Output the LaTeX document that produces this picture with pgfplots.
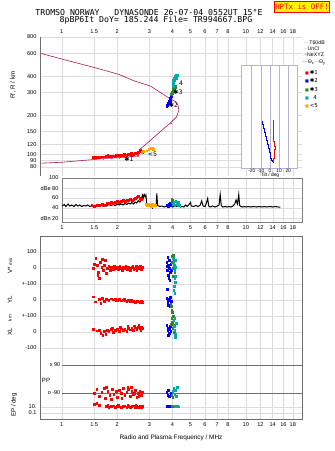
\documentclass[border=0pt]{standalone}
\usepackage{pgfplots}
\pgfplotsset{compat=1.18}
\usepackage{fontspec}
\setmainfont{Liberation Sans}
\newfontfamily\monof{DejaVu Sans Mono}
\newfontfamily\dejavu{DejaVu Sans}
\definecolor{crim}{RGB}{176,24,76}
\definecolor{pinkm}{RGB}{230,80,150}
\definecolor{gridc}{RGB}{220,220,224}
\definecolor{framec}{RGB}{110,110,110}
\definecolor{grn}{RGB}{34,139,34}
\definecolor{cyn}{RGB}{0,170,170}
\definecolor{org}{RGB}{255,165,0}
\definecolor{lav}{RGB}{150,150,230}
\definecolor{insetc}{RGB}{180,180,210}
\begin{document}
\begin{tikzpicture}[font=\fontsize{5.5}{6}\selectfont]
\useasboundingbox (0pt,0pt) rectangle (335pt,-451pt);
% ---------------- top panel ----------------
\begin{axis}[at={(40pt,-37pt)}, anchor=north west, scale only axis, width=262pt, height=139pt,
  xmode=log, ymode=log, xmin=0.762, xmax=20.2, ymin=68.2, ymax=800,
  xtick={1,1.5,2,3,4,5,6,7,8,10,12,14,16,18},
  xticklabels={1,1.5,2,3,4,5,6,7,8,10,12,14,16,18},
  minor xtick={}, minor ytick={}, major tick length=0pt,
  grid=major, major grid style={gridc, line width=0.4pt},
  tick label style={font=\fontsize{5.6}{6}\selectfont},
  xticklabel pos=right,
  ytick={80,90,100,120,150,200,300,400,600,800},
  yticklabels={80,90,100,120,150,200,300,400,600,800},
  axis line style={draw=none}]
\addplot[crim, line width=0.6pt] coordinates {
(0.762,85.5)(1.0,87)(1.52,91.5)(1.69,93)(2.17,95)(2.57,97)(2.65,109)(2.97,125)
(3.44,150)(3.90,175)(4.21,195)(4.33,219)(4.28,240)(4.16,254)(3.82,272)(3.04,335)
(2.46,369)(2.04,413)(1.52,464)(1.02,538)(0.762,600)};
\addplot[only marks, mark=+, pinkm, mark size=1.3pt] coordinates {
(1.69,93)(1.86,93.8)(2.04,94.5)(2.22,95.2)(2.60,97.5)(3.90,175)};
\addplot[only marks, mark=square*, red, mark size=0.85pt] coordinates {
(1.48,95)(1.52,95.5)(1.56,95)(1.60,95.5)(1.64,96)(1.70,96)(1.75,96.5)(1.80,97)
(1.85,96.5)(1.90,97.5)(1.95,97)(2.00,98)(2.05,98.5)(2.10,98)(2.15,99)(2.20,99.5)
(2.25,99)(2.30,100)(2.35,100.5)(2.40,101)(2.45,100.5)(2.50,102)(2.55,103)(2.60,104)
(2.65,105)(2.70,106)(2.73,103)(1.78,98)(1.98,99.5)(2.18,101)(2.38,102.5)(2.58,101)(2.68,108)};
\addplot[only marks, mark=square*, org, mark size=0.85pt] coordinates {
(2.72,104)(2.76,106)(2.90,107)(2.97,109)(3.05,111)(3.10,112)(3.14,110)};
\addplot[only marks, mark=square*, blue, mark size=0.85pt] coordinates {
(3.72,236)(3.75,240)(3.78,250)(3.80,245)(3.82,258)(3.85,255)(3.88,262)(3.90,270)
(3.92,278)(3.95,285)(3.90,250)(3.86,266)};
\addplot[only marks, mark=square*, grn, mark size=0.85pt] coordinates {
(3.92,290)(3.96,300)(4.00,308)(4.05,318)(4.10,325)(4.15,335)(4.00,295)(4.08,310)(4.12,330)};
\addplot[only marks, mark=square*, cyn, mark size=0.85pt] coordinates {
(4.00,345)(4.02,360)(4.05,375)(4.10,390)(4.15,400)(4.20,410)(4.25,405)(4.10,370)
(4.05,335)(4.18,385)(4.02,350)};
\end{axis}
\draw[framec, line width=0.5pt] (40pt,-37pt) -- (40pt,-176pt);
% ---------------- tilt inset ----------------
\begin{axis}[at={(241.7pt,-65pt)}, anchor=north west, scale only axis, width=55.6pt, height=103.3pt,
  xmin=-31, xmax=30, ymin=0, ymax=103.3,
  axis background/.style={fill=white},
  axis line style={insetc, line width=0.7pt},
  xtick={-20,-10,0,10,20}, xticklabels={-20,-10,0,10,20}, ytick=\empty,
  major tick length=0pt, xmajorgrids, major grid style={insetc, line width=0.5pt},
  tick label style={font=\fontsize{4.8}{5}\selectfont, inner sep=0.6pt}]
\addplot[blue, line width=0.8pt, const plot] coordinates {
(-9,47)(-8,44)(-7,40)(-6,36)(-5,32)(-4,28)(-3,24)(-2,20)(-1,16)(0,13)(1,10)(2,8)(3,6.5)(3.5,6)};
\addplot[red, line width=0.7pt, const plot] coordinates {
(2.9,47.6)(3.2,40)(3.6,33)(4.0,27)(4.8,22)(5.4,19)(5.2,14)(4.3,10)(3.8,7)(3.6,6)};
\end{axis}
\node[font=\fontsize{4.8}{5}\selectfont] at (270pt,-175pt) {Tilt / deg};
% ---------------- dB panel ----------------
\begin{axis}[at={(62pt,-178pt)}, anchor=north west, scale only axis, width=240pt, height=44pt,
  xmode=log, xmin=1, xmax=20.2, ymin=12, ymax=100,
  xtick={1,1.5,2,3,4,5,6,7,8,10,12,14,16,18},
  xticklabels={1,1.5,2,3,4,5,6,7,8,10,12,14,16,18},
  minor xtick={}, minor ytick={}, major tick length=0pt,
  grid=major, major grid style={gridc, line width=0.4pt},
  tick label style={font=\fontsize{5.6}{6}\selectfont},
  ytick={20,40,60,80,100}, yticklabels={dBn 20,40,60,dBe 80,100},
  axis line style={gray, line width=0.5pt}]
\addplot[black, line width=1pt] coordinates {
(1.00,44)(1.03,47)(1.05,43)(1.08,48)(1.10,44)(1.13,46)(1.16,43)(1.19,47)(1.22,44)(1.25,46)
(1.28,43)(1.31,45)(1.35,44)(1.38,46)(1.42,43)(1.46,45)(1.50,44)(1.54,46)(1.58,44)(1.62,46)
(1.66,44)(1.70,46)(1.75,44)(1.80,47)(1.85,45)(1.90,47)(1.95,45)(2.00,48)(2.05,46)(2.10,48)
(2.15,46)(2.20,49)(2.25,47)(2.30,50)(2.35,48)(2.40,51)(2.45,48)(2.50,52)(2.55,50)(2.60,55)
(2.65,52)(2.70,58)(2.74,66)(2.77,60)(2.80,67)(2.83,63)(2.86,66)(2.89,48)(2.95,46)(3.00,44)
(3.05,45)(3.10,40)(3.15,46)(3.20,44)(3.25,45)(3.28,69)(3.31,45)(3.40,43)(3.50,44)(3.60,42)
(3.70,44)(3.80,43)(3.90,44)(4.00,42)(4.10,44)(4.20,43)(4.30,45)(4.40,42)(4.50,43)(4.60,42)
(4.70,46)(4.80,43)(4.90,47)(5.00,51)(5.05,44)(5.20,43)(5.35,45)(5.50,43)(5.65,46)(5.75,54)
(5.85,44)(6.00,43)(6.10,50)(6.20,59)(6.28,44)(6.40,42)(6.60,44)(6.80,42)(7.00,44)(7.15,46)
(7.25,67)(7.35,45)(7.50,42)(7.70,43)(7.90,42)(8.10,43)(8.30,42)(8.50,44)(8.70,48)(8.85,56)
(9.00,48)(9.15,67)(9.25,45)(9.40,43)(9.60,42)(9.80,43)(10.0,42)(10.3,43)(10.6,42)(11.0,43)
(11.4,42)(11.8,43)(12.2,42)(12.6,43)(13.0,42)(13.5,43)(14.0,42)(14.5,43)(15.0,42)(15.4,42)};
\addplot[only marks, mark=square*, red, mark size=0.85pt] coordinates {
(1.45,45)(1.50,44)(1.55,46)(1.60,45)(1.65,47)(1.70,46)(1.75,49)(1.80,50)(1.85,51)(1.90,50)
(1.95,52)(2.00,53)(2.05,52)(2.10,54)(2.15,55)(2.20,54)(2.25,56)(2.30,55)(2.35,57)(2.40,56)
(2.45,58)(2.50,59)(2.55,61)(2.60,63)(2.65,60)(2.70,57)};
\addplot[only marks, mark=square*, org, mark size=0.85pt] coordinates {
(2.85,47)(2.90,45)(2.95,48)(3.00,46)(3.05,44)(3.10,47)(3.15,45)(3.20,46)};
\addplot[only marks, mark=square*, blue, mark size=0.85pt] coordinates {
(3.75,45)(3.80,48)(3.85,50)(3.90,46)(3.78,43)};
\addplot[only marks, mark=square*, grn, mark size=0.85pt] coordinates {
(3.95,58)(3.97,52)(4.00,55)};
\addplot[only marks, mark=square*, cyn, mark size=0.85pt] coordinates {
(4.00,48)(4.05,52)(4.10,46)(4.15,54)(4.20,50)(4.25,47)(4.30,52)(4.35,45)};
\end{axis}
% ---------------- lower panel ----------------
\begin{axis}[at={(40pt,-236pt)}, anchor=north west, scale only axis, width=262pt, height=183pt,
  xmode=log, xmin=0.762, xmax=20.2, ymin=32, ymax=215,
  xtick={1,1.5,2,3,4,5,6,7,8,10,12,14,16,18},
  xticklabels={1,1.5,2,3,4,5,6,7,8,10,12,14,16,18},
  minor xtick={}, minor ytick={}, major tick length=0pt,
  grid=major, major grid style={gridc, line width=0.4pt},
  tick label style={font=\fontsize{5.6}{6}\selectfont},
  ytick={38,44,103,119,135,151,167,183,199},
  yticklabels={0.1,10.,-100,0,+-100,0,+-100,0,100},
  axis line style={framec, line width=0.5pt},
  xlabel={Radio and Plasma Frequency / MHz},
  xlabel style={font=\fontsize{6.4}{7}\selectfont, yshift=-1pt}]
\draw[framec, line width=0.5pt] (axis cs:1,86) -- (axis cs:20.2,86);
\draw[framec, line width=0.5pt] (axis cs:1,58) -- (axis cs:20.2,58);
\addplot[only marks, mark=square*, red, mark size=0.8pt] coordinates {
(1.48,183)(1.53,193)(1.56,186)(1.58,179)(1.57,176)(1.60,173)(1.62,189)(1.65,184)(1.68,181)
(1.70,186)(1.72,191)(1.74,178)(1.77,183)(1.80,185)(1.83,181)(1.86,184)(1.90,182)(1.93,185)
(1.96,183)(2.00,184)(2.03,182)(2.06,185)(2.10,183)(2.13,181)(2.16,184)(2.20,183)(2.23,185)
(2.26,182)(2.30,184)(2.33,183)(2.36,181)(2.40,184)(2.43,185)(2.46,182)(2.50,183)(2.53,185)
(2.56,181)(2.60,184)(2.63,183)(2.66,185)(2.70,182)(2.73,184)(1.50,187)(1.66,192)};
\addplot[only marks, mark=square*, red, mark size=0.8pt] coordinates {
(1.48,154.5)(1.52,149.5)(1.60,152)(1.63,148)(1.66,153)(1.70,150)(1.75,152)(1.80,151)
(1.85,152.5)(1.90,151.5)(1.95,152)(2.00,151)(2.05,152)(2.10,150.5)(2.15,151.5)(2.20,151)
(2.25,150)(2.30,151)(2.35,149.5)(2.40,150.5)(2.45,150)(2.50,149)(2.55,150.5)(2.60,149.5)
(2.65,149)(2.70,150)(2.73,149)(1.78,151.5)(1.98,150.5)(2.18,152)(2.38,151)(2.58,150)};
\addplot[only marks, mark=square*, red, mark size=0.8pt] coordinates {
(1.48,122)(1.55,120.5)(1.60,121)(1.63,118)(1.67,116)(1.70,120)(1.73,117)(1.77,121)(1.80,120)
(1.85,122)(1.90,119)(1.95,121)(2.00,122)(2.05,120)(2.10,122.5)(2.15,121)(2.20,122)(2.25,120)
(2.30,123)(2.35,121.5)(2.40,123)(2.45,121)(2.50,123.5)(2.55,122)(2.60,124)(2.65,123)
(2.70,124.5)(2.73,123)(1.88,123)(2.08,124)(2.28,125)(2.48,125.5)(2.62,126)(2.68,121)};
\addplot[only marks, mark=square*, red, mark size=0.8pt] coordinates {
(1.50,58)(1.55,62)(1.60,55)(1.65,59)(1.70,63)(1.72,53)(1.78,60)(1.82,56)(1.88,62)(1.92,57)
(1.97,60)(2.00,54)(2.05,61)(2.10,58)(2.15,63)(2.20,56)(2.25,59)(2.30,62)(2.35,55)(2.40,60)
(2.45,57)(2.50,61)(2.55,54)(2.60,58)(2.65,60)(2.70,56)(2.73,59)(1.85,52)(2.12,53)(2.38,64)
(1.75,64)(2.28,64)(2.62,55)(2.48,58)};
\addplot[only marks, mark=square*, red, mark size=0.8pt] coordinates {
(1.50,47)(1.55,48)(1.60,46)(1.75,45)(1.80,44)(1.85,45)(1.90,45.5)(1.95,44)(2.00,45)(2.05,44.5)
(2.10,44)(2.15,45)(2.20,45.5)(2.25,44)(2.30,45)(2.35,44)(2.40,45)(2.45,45.5)(2.50,44)(2.55,45)
(2.60,44)(2.65,45)(2.70,43.5)(2.73,45)(1.78,46)(2.02,46)(2.28,46)(2.52,46)};
\addplot[only marks, mark=square*, blue, mark size=0.8pt] coordinates {
(3.72,189)(3.75,181)(3.78,176)(3.80,186)(3.82,173)(3.85,183)(3.88,179)(3.90,187)(3.74,185)
(3.84,191)(3.92,181)(3.86,171)(3.76,194)
(3.72,153)(3.76,149)(3.80,146)(3.84,151)(3.88,154)(3.90,148)(3.78,152)(3.86,145)(3.95,150)(3.74,162)
(3.72,126)(3.76,121)(3.80,123)(3.84,118)(3.88,125)(3.90,120)(3.78,116)(3.86,122)
(3.72,59)(3.76,56)(3.80,61)(3.85,55)(3.90,58)
(3.72,45)(3.76,45)(3.80,45.5)(3.85,45)(3.90,44.5)};
\addplot[only marks, mark=square*, grn, mark size=0.8pt] coordinates {
(3.95,195)(3.98,189)(4.00,183)(4.02,196)(4.05,191)(4.08,185)(4.10,179)(4.00,175)
(3.92,145)(3.95,141)(3.98,139)(3.90,147)
(3.95,133)(3.98,129)(4.00,123)(4.02,135)(4.05,126)(4.08,119)(3.93,127)
(3.95,56)(4.00,54)
(3.95,45)(4.00,44.5)(4.05,45)};
\addplot[only marks, mark=square*, cyn, mark size=0.8pt] coordinates {
(4.02,193)(4.05,189)(4.08,186)(4.10,181)(4.12,191)(4.15,184)
(4.10,173)(4.12,169)(4.08,165)(4.05,161)(4.10,158)(4.15,175)
(4.05,131)(4.08,125)(4.10,121)(4.12,117)(4.15,114)(4.18,128)(4.10,133)
(4.00,60)(4.05,63)(4.10,57)(4.15,61)(4.20,55)(4.25,64)
(4.05,45.5)(4.10,45)(4.15,45)(4.20,45.5)(4.25,45)(4.30,44.5)};
\end{axis}
% ---------------- texts ----------------
\node[font=\monof\fontsize{8.2}{9}\selectfont] at (149pt,-12.5pt) {TROMSO NORWAY~~~DYNASONDE 26-07-04 0552UT 15°E};
\node[font=\monof\fontsize{8.2}{9}\selectfont] at (156pt,-20.5pt) {8pBP6It DoY= 185.244 File= TR994667.BPG};
\node[draw=red, fill=yellow, text=red, line width=0.6pt, inner sep=0.8pt, minimum height=11pt,
  font=\monof\fontsize{7.4}{8}\selectfont] at (302pt,-6.5pt) {HPTx is OFF!};
\node[rotate=90, font=\fontsize{6.2}{7}\selectfont] at (13pt,-85pt) {R', R / km};
\node[rotate=90, font=\fontsize{6.2}{7}\selectfont] at (10pt,-266pt) {V* {\fontsize{4.5}{5}\selectfont m/s}};
\node[rotate=90, font=\fontsize{6.2}{7}\selectfont] at (10pt,-300pt) {YL};
\node[rotate=90, font=\fontsize{4.5}{5}\selectfont] at (10pt,-318pt) {km};
\node[rotate=90, font=\fontsize{6.2}{7}\selectfont] at (10pt,-332pt) {XL};
\node[rotate=90, font=\fontsize{6.2}{7}\selectfont] at (14pt,-405pt) {EP / deg};
\node[font=\fontsize{6}{7}\selectfont] at (46pt,-380pt) {PP};
\node[anchor=east, fill=white, inner sep=1pt] at (61.5pt,-365pt) {x 90};
\node[anchor=east, fill=white, inner sep=1pt] at (61.5pt,-393pt) {o -90};
\node[font=\dejavu\fontsize{6.2}{7}\selectfont] at (129pt,-159pt) {✱1};
\node[font=\dejavu\fontsize{6.2}{7}\selectfont] at (152.5pt,-154.5pt) {<5};
\node[font=\dejavu\fontsize{6.2}{7}\selectfont] at (173.5pt,-105pt) {✱2};
\node[font=\dejavu\fontsize{6.2}{7}\selectfont] at (178pt,-92.5pt) {✱3};
\node[font=\dejavu\fontsize{6.2}{7}\selectfont] at (181pt,-83.5pt) {4};
\begin{scope}[every node/.style={anchor=west, inner sep=0pt, font=\fontsize{5.2}{6}\selectfont}]
\node at (304pt,-42.3pt) {\textcolor{gray!60}{—}T60dB};
\node at (304pt,-48.3pt) {\,·\,UnCl};
\node at (304pt,-55pt) {\textcolor{pinkm}{+}NeXYZ};
\node at (302.5pt,-62.7pt) {\textcolor{pinkm}{—}Θ\raisebox{-0.2ex}{\fontsize{3.8}{4}\selectfont x}\textcolor{lav}{—}Θ\raisebox{-0.2ex}{\fontsize{3.8}{4}\selectfont y}};
\node at (305pt,-72.7pt) {\dejavu\textcolor{red}{\fontsize{4}{4}\selectfont■}\,{\fontsize{5.5}{6}\selectfont ✱1}};
\node at (305pt,-80.7pt) {\dejavu\textcolor{blue}{\fontsize{4}{4}\selectfont■}\,{\fontsize{5.5}{6}\selectfont ✱2}};
\node at (305pt,-90pt) {\dejavu\textcolor{grn}{\fontsize{4}{4}\selectfont■}\,{\fontsize{5.5}{6}\selectfont ✱3}};
\node at (305pt,-97.7pt) {\dejavu\textcolor{cyn}{\fontsize{4}{4}\selectfont■}\,{\fontsize{5.5}{6}\selectfont \ \ 4}};
\node at (305pt,-106pt) {\dejavu\textcolor{org}{\fontsize{4}{4}\selectfont■}\,{\fontsize{5.5}{6}\selectfont <5}};
\end{scope}
\end{tikzpicture}
\end{document}
